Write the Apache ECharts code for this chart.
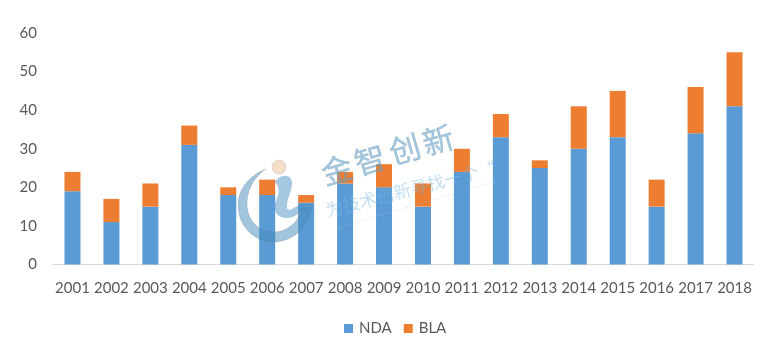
<!DOCTYPE html>
<html>
<head>
<meta charset="utf-8">
<style>html,body{margin:0;padding:0;background:#fff}#c{width:780px;height:364px}</style>
<script src="https://cdn.jsdelivr.net/npm/echarts@6/dist/echarts.min.js"></script>
</head>
<body>
<div id="c"></div>
<script>
const categories = ['2001','2002','2003','2004','2005','2006','2007','2008','2009','2010','2011','2012','2013','2014','2015','2016','2017','2018'];
const nda = [19,11,15,31,18,18,16,21,20,15,24,33,25,30,33,15,34,41];
const bla = [5,6,6,5,2,4,2,3,6,6,6,6,2,11,12,7,12,14];
const font = 'Lato';
// flatten a start point + cubic segments into polygon points (watermark logo only)
function curve(start, segs){
  const pts=[start]; let p=start;
  segs.forEach(s=>{
    for(let i=1;i<=12;i++){
      const t=i/12,u=1-t;
      pts.push([
        u*u*u*p[0]+3*u*u*t*s[0]+3*u*t*t*s[2]+t*t*t*s[4],
        u*u*u*p[1]+3*u*u*t*s[1]+3*u*t*t*s[3]+t*t*t*s[5]
      ]);
    }
    p=[s[4],s[5]];
  });
  return pts;
}
const crescent = curve([266,169],[
  [248,176,238,190,238,205],[238,226,254,242,273,242],[293,242,308,228,312,207],
  [309,207,305,208,302,208],[299,222,287,232,273,232],[258,232,247,219,247,204],[247,190,254,177,266,169]]);
const iShape = curve([275,182],[
  [279,174,292,173,292,183],[292,192,286,200,287,208],[288,213,296,206,301,204],
  [305,204,308,204,312,204],[304,208,298,217,288,218],[279,219,273,212,275,204],[277,197,282,190,275,182]]);
const brandChars = ['金','智','创','新'];
const brandX = [337,370,405,438];
const brandY = [170,160,149,140];
const brandEls = brandChars.map((c,i)=>({
  type:'text',z:100,silent:true,x:brandX[i],y:brandY[i],rotation:16*Math.PI/180,
  style:{text:c,fill:'rgba(100,165,205,0.62)',stroke:'rgba(110,110,110,0.28)',lineWidth:0.6,
    font:'31px "Noto Sans CJK SC"',align:'center',verticalAlign:'middle'}
}));
const chart = echarts.init(document.getElementById('c'), null, {renderer:'canvas'});
chart.setOption({
  animation:false,
  backgroundColor:'#fff',
  textStyle:{fontFamily:font},
  grid:{left:53,right:26,top:33,bottom:99.5,containLabel:false},
  legend:{
    left:339,top:316,itemWidth:9,itemHeight:9,itemGap:12,icon:'rect',
    textStyle:{color:'#595959',fontSize:15,fontFamily:font,padding:[0,0,0,1]},
    data:['NDA','BLA']
  },
  xAxis:{
    type:'category',data:categories,
    axisTick:{show:false},
    axisLine:{lineStyle:{color:'#d9d9d9',width:1}},
    axisLabel:{color:'#595959',fontSize:15,fontFamily:font,margin:16,interval:0}
  },
  yAxis:{
    type:'value',min:0,max:60,interval:10,
    splitLine:{show:false},axisLine:{show:false},axisTick:{show:false},
    axisLabel:{color:'#595959',fontSize:15,fontFamily:font,margin:16}
  },
  series:[
    {name:'NDA',type:'bar',stack:'t',data:nda,barWidth:16,itemStyle:{color:'#5b9bd5'}},
    {name:'BLA',type:'bar',stack:'t',data:bla,barWidth:16,itemStyle:{color:'#ed7d31'}}
  ],
  graphic:[
    {type:'polygon',z:100,silent:true,shape:{points:crescent},
     style:{fill:'rgba(70,140,190,0.5)',stroke:'rgba(110,110,110,0.35)',lineWidth:0.6}},
    {type:'polygon',z:100,silent:true,shape:{points:iShape},
     style:{fill:'rgba(70,140,190,0.48)'}},
    {type:'circle',z:100,silent:true,shape:{cx:279,cy:167,r:7},
     style:{fill:'rgba(240,205,170,0.65)',stroke:'rgba(150,150,150,0.5)',lineWidth:0.6}},
    ...brandEls,
    {type:'line',z:100,silent:true,shape:{x1:337,y1:228,x2:500,y2:180},
     style:{stroke:'rgba(170,190,210,0.2)',lineWidth:1}},
    {type:'text',z:100,silent:true,x:410.5,y:189,rotation:14.5*Math.PI/180,
     style:{text:'为技术创新寻找一个“',fill:'rgba(120,185,225,0.45)',font:'17.5px "Noto Sans CJK SC"',align:'center',verticalAlign:'middle'}}
  ]
});
</script>
</body>
</html>
